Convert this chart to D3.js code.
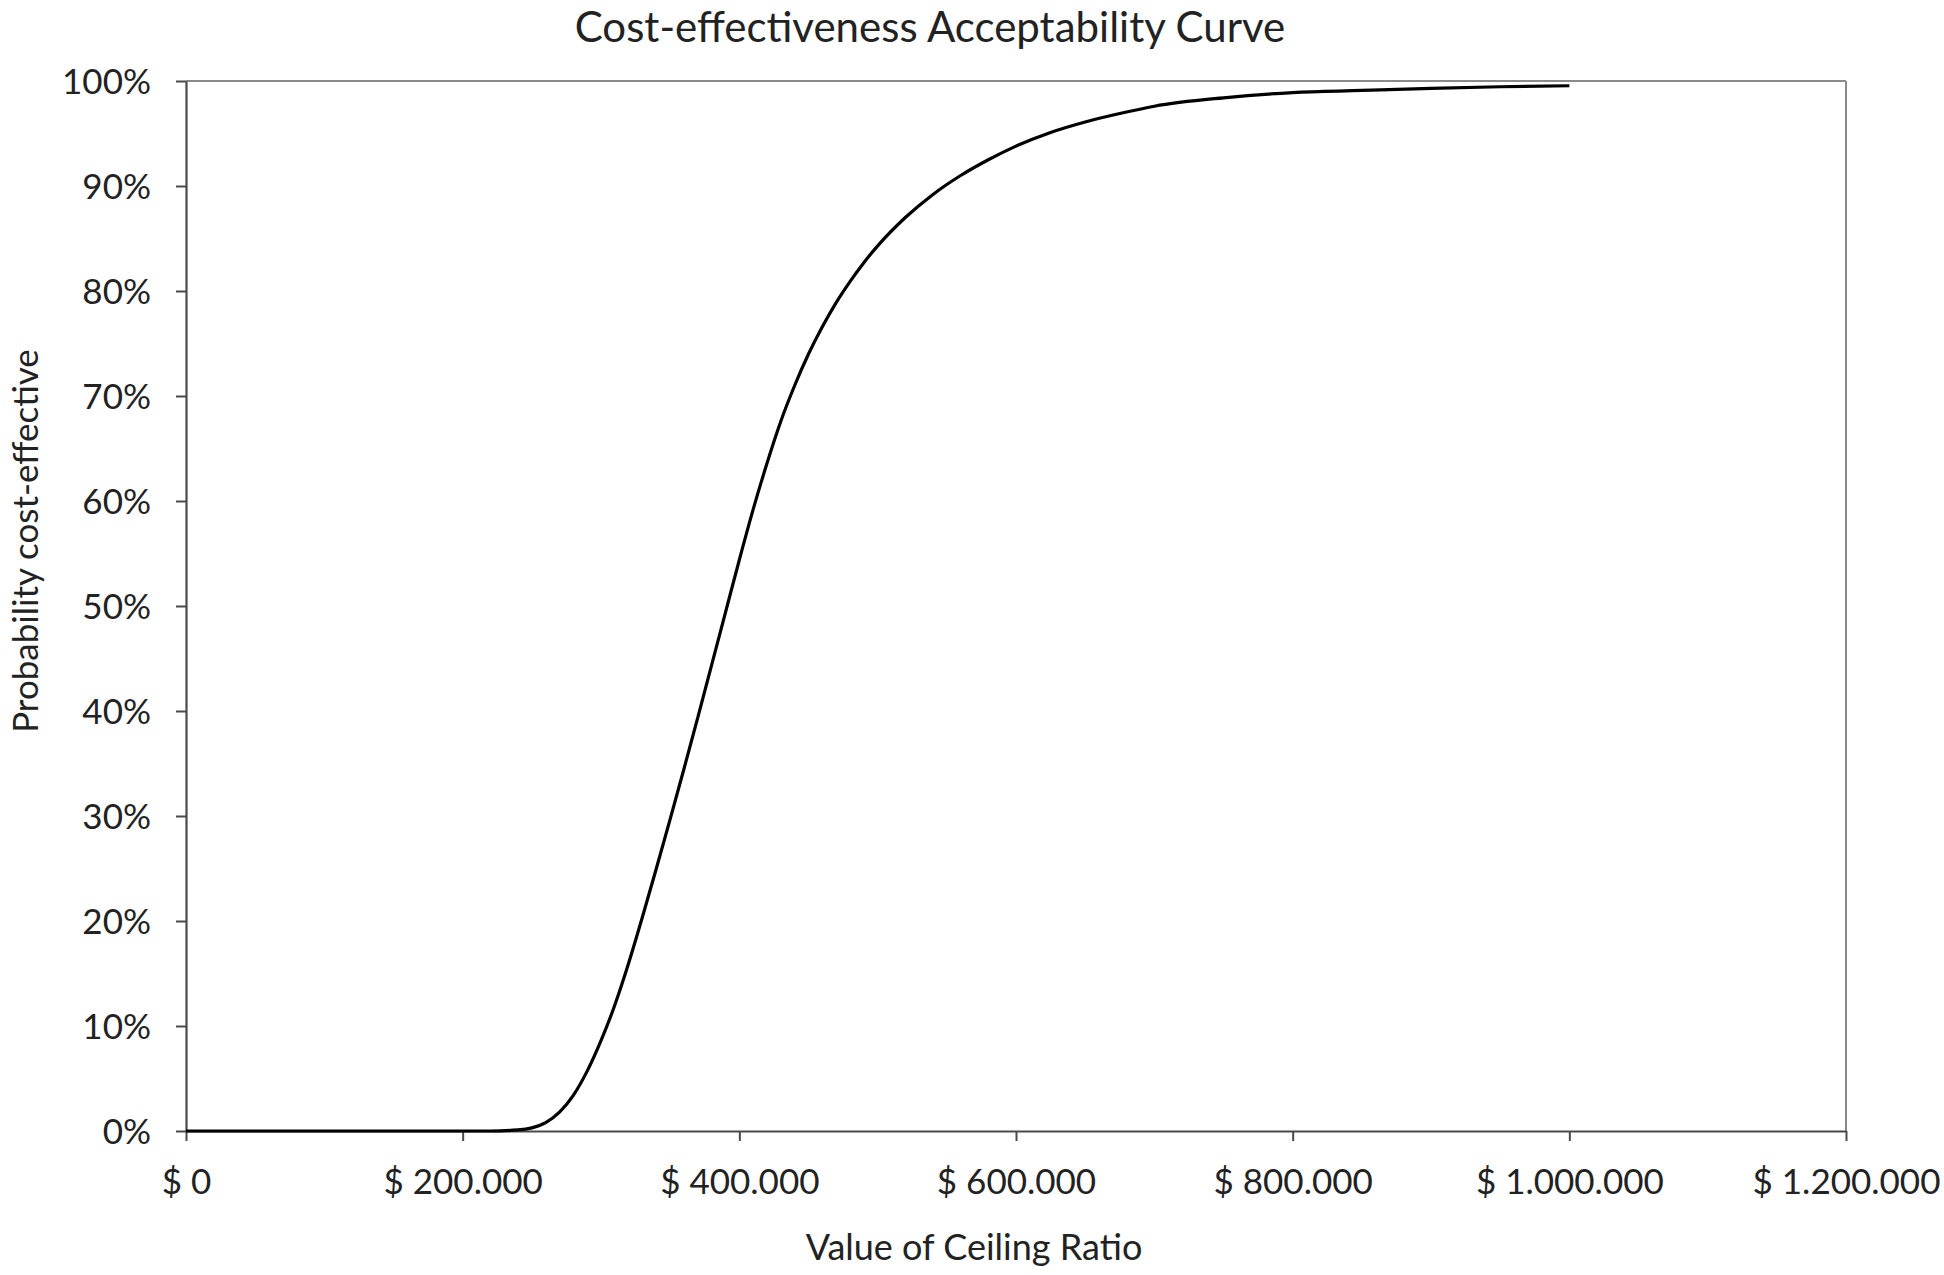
<!DOCTYPE html>
<html>
<head>
<meta charset="utf-8">
<script src="https://cdn.jsdelivr.net/npm/d3@7"></script>
<style>
  html, body { margin: 0; padding: 0; background: #fff; }
  svg { display: block; }
  text { font-family: Lato, "Open Sans", sans-serif; fill: #222; }
</style>
</head>
<body>
<svg id="chart" width="1944" height="1275"></svg>
<script>
// ---- data ----
const ceilingValues = [0, 50000, 100000, 150000, 200000, 220000, 240000, 250000, 260000, 270000,
  280000, 290000, 300000, 310000, 320000, 330000, 340000, 350000, 360000, 370000,
  380000, 390000, 400000, 410000, 420000, 430000, 440000, 450000, 460000, 470000,
  480000, 490000, 500000, 520000, 540000, 560000, 580000, 600000, 625000, 650000,
  675000, 700000, 750000, 800000, 850000, 900000, 950000, 1000000];
const probCostEffective = [0, 0, 0, 0, 0, 0, 0.001, 0.003, 0.008, 0.018,
  0.034, 0.057, 0.086, 0.120, 0.160, 0.204, 0.250, 0.297, 0.345, 0.394,
  0.444, 0.494, 0.544, 0.592, 0.636, 0.676, 0.710, 0.740, 0.766, 0.789,
  0.809, 0.827, 0.843, 0.870, 0.892, 0.910, 0.925, 0.938, 0.951, 0.961,
  0.969, 0.976, 0.984, 0.989, 0.991, 0.993, 0.9945, 0.9955];
const xTickValues = [0, 200000, 400000, 600000, 800000, 1000000, 1200000];
const xTickLabels = ["$ 0", "$ 200.000", "$ 400.000", "$ 600.000", "$ 800.000", "$ 1.000.000", "$ 1.200.000"];
const yTickValues = [0, 0.1, 0.2, 0.3, 0.4, 0.5, 0.6, 0.7, 0.8, 0.9, 1.0];
const yTickLabels = ["0%", "10%", "20%", "30%", "40%", "50%", "60%", "70%", "80%", "90%", "100%"];
const chartTitle = "Cost-effectiveness Acceptability Curve";
const xTitle = "Value of Ceiling Ratio";
const yTitle = "Probability cost-effective";

// ---- layout ----
const svg = d3.select("#chart");
const L = 186, R = 1846, T = 81, B = 1131;

const x = d3.scaleLinear().domain([0, 1200000]).range([L, R]);
const y = d3.scaleLinear().domain([0, 1]).range([B, T]);

// plot border (top + right), lighter gray
svg.append("line").attr("x1", L).attr("x2", R).attr("y1", T).attr("y2", T)
  .attr("stroke", "#8a8a8a").attr("stroke-width", 2);
svg.append("line").attr("x1", R).attr("x2", R).attr("y1", T).attr("y2", B)
  .attr("stroke", "#8a8a8a").attr("stroke-width", 2);

// axes
const xAxis = d3.axisBottom(x).tickValues(xTickValues)
  .tickFormat((d, i) => xTickLabels[i]).tickSize(10).tickPadding(20).tickSizeOuter(0);
const yAxis = d3.axisLeft(y).tickValues(yTickValues)
  .tickFormat((d, i) => yTickLabels[i]).tickSize(10).tickPadding(25).tickSizeOuter(0);

const gx = svg.append("g").attr("transform", `translate(0,${B})`).call(xAxis);
const gy = svg.append("g").attr("transform", `translate(${L},0)`).call(yAxis);

[gx, gy].forEach(g => {
  g.select(".domain").attr("stroke", "#4a4a4a").attr("stroke-width", 2.2);
  g.selectAll(".tick line").attr("stroke", "#4a4a4a").attr("stroke-width", 2);
  g.selectAll(".tick text").attr("fill", "#222").style("font-size", "35px")
    .style("font-family", "Lato, 'Open Sans', sans-serif");
});
gx.selectAll(".tick text").attr("dy", "0.95em");
gy.selectAll(".tick text").attr("dy", "0.36em");

// curve
const line = d3.line()
  .x((d, i) => x(ceilingValues[i]))
  .y(d => y(d))
  .curve(d3.curveMonotoneX);
svg.append("path").datum(probCostEffective)
  .attr("d", line).attr("fill", "none")
  .attr("stroke", "#000").attr("stroke-width", 3.2)
  .attr("stroke-linejoin", "round");

// titles
svg.append("text").attr("x", 930).attr("y", 42).attr("text-anchor", "middle")
  .style("font-size", "42px").text(chartTitle);
svg.append("text").attr("x", 974).attr("y", 1260).attr("text-anchor", "middle")
  .style("font-size", "36px").text(xTitle);
svg.append("text").attr("transform", "translate(38,541) rotate(-90)")
  .attr("text-anchor", "middle").style("font-size", "35px").text(yTitle);
</script>
</body>
</html>
